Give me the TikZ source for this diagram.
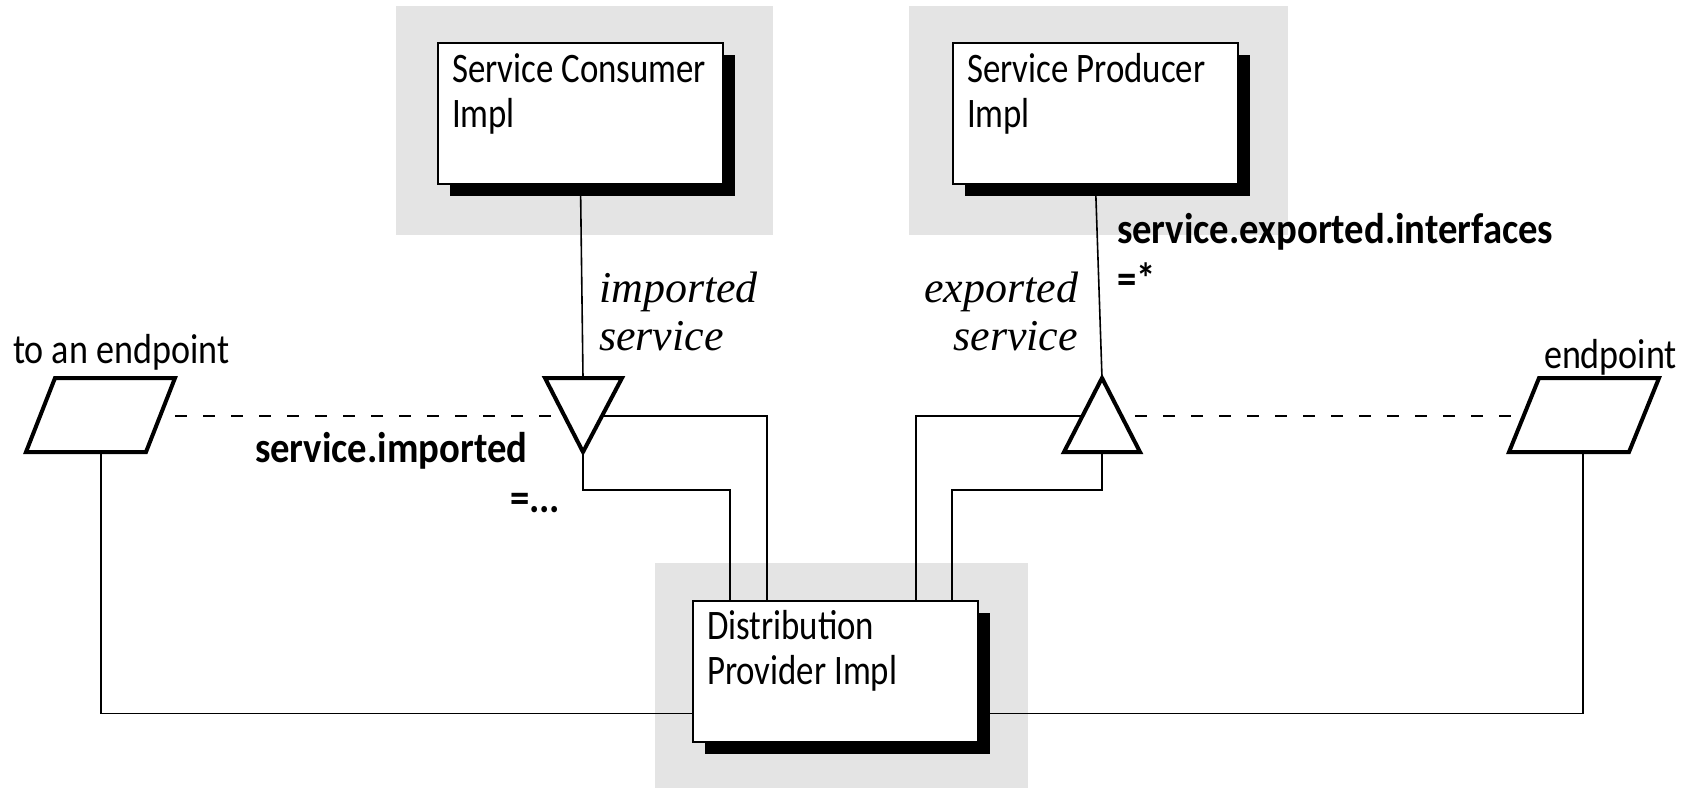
\documentclass[tikz,border=0pt]{standalone}
\usepackage{fontspec}
\newfontfamily\lightsans[FakeStretch=0.83]{Carlito}
\newfontfamily\plainsans[FakeStretch=0.86]{Carlito}
\newfontfamily\boldsans[FakeStretch=0.9]{Carlito}
\newfontfamily\itserif{Liberation Serif}
\usetikzlibrary{calc,shadows}
\definecolor{bggray}{RGB}{228,228,228}
\tikzset{
  panel/.style={fill=bggray,draw=none},
  umlbox/.style={draw=black,fill=white,line width=1pt,minimum width=142.5pt,minimum height=70.5pt,inner sep=0pt,
    drop shadow={shadow xshift=6pt,shadow yshift=-6pt,fill=black,opacity=1}},
  conn/.style={draw=black,line width=0.8pt},
  dashconn/.style={draw=black,line width=0.8pt,dash pattern=on 6pt off 8pt,dash phase=7pt},
  heavy/.style={draw=black,fill=white,line width=2pt,line join=miter},
  boxtext/.style={inner sep=0pt,outer sep=0pt,anchor=base west,font=\lightsans\fontsize{21}{22.5}\selectfont},
  sanslbl/.style={inner sep=0pt,outer sep=0pt,font=\plainsans\fontsize{21}{22.5}\selectfont},
  itlbl/.style={inner sep=0pt,outer sep=0pt,font=\itserif\itshape\fontsize{22}{24}\selectfont},
  boldlbl/.style={inner sep=0pt,outer sep=0pt,anchor=base west,font=\boldsans\bfseries\fontsize{21.5}{25}\selectfont},
}
\begin{document}
\begin{tikzpicture}[x=0.5pt,y=-0.5pt]
\useasboundingbox (0,0) rectangle (1690,788);
% grey panels
\fill[panel] (396,6) rectangle (773,235);
\fill[panel] (909,6) rectangle (1288,235);
\fill[panel] (655,563) rectangle (1028,788);

% boxes
\node[umlbox] (cons) at (580.5,113.5) {};
\node[umlbox] (prod) at (1095.5,113.5) {};
\node[umlbox] (dist) at (835.5,671) {};
\node[boxtext] (consT) at (452,82) {\begin{tabular}[t]{@{}l@{}}Service Consumer\\Impl\end{tabular}};
\node[boxtext] (prodT) at (967,82) {\begin{tabular}[t]{@{}l@{}}Service Producer\\Impl\end{tabular}};
\node[boxtext] (distT) at (707,639) {\begin{tabular}[t]{@{}l@{}}Distribution\\Provider Impl\end{tabular}};

% triangles
\coordinate (impTL) at (545,378);
\coordinate (impTR) at (622,378);
\coordinate (impApex) at (583,452);
\coordinate (impTop) at (583,378);
\coordinate (impLe) at (564,416);
\coordinate (impRe) at (603,416);
\coordinate (expApex) at (1102,378);
\coordinate (expBL) at (1064,452);
\coordinate (expBR) at (1140,452);
\coordinate (expBase) at (1102,452);
\coordinate (expLe) at (1083,416);
\coordinate (expRe) at (1121,416);

% endpoints (parallelograms)
\coordinate (lTL) at (55,378);
\coordinate (lTR) at (175,378);
\coordinate (lBR) at (146,452);
\coordinate (lBL) at (26,452);
\coordinate (lBot) at (101,452);
\coordinate (lRe) at (161,416);
\coordinate (rTL) at (1539,378);
\coordinate (rTR) at (1659,378);
\coordinate (rBR) at (1629,452);
\coordinate (rBL) at (1509,452);
\coordinate (rBot) at (1583,452);
\coordinate (rLe) at (1524,416);

% connectors
\draw[conn] (cons.south) -- (impTop);
\draw[conn] (prod.south) -- (expApex);
\draw[conn] (impApex) -- ++(0,38) -| ($(dist.north west)+(38,0)$);
\draw[conn] (impRe) -| ($(dist.north west)+(75,0)$);
\draw[conn] (expLe) -| ($(dist.north west)+(224,0)$);
\draw[conn] (expBase) -- ++(0,38) -| ($(dist.north west)+(260,0)$);
\draw[conn] (lBot) |- ($(dist.south west)+(0,-29)$);
\draw[conn] (rBot) |- ($(dist.south east)+(0,-29)$);
\draw[dashconn] (lRe) -- (impLe);
\draw[dashconn] (expRe) -- (rLe);

\draw[heavy] (impTL) -- (impTR) -- (impApex) -- cycle;
\draw[heavy] (expApex) -- (expBR) -- (expBL) -- cycle;
\draw[heavy] (lTL) -- (lTR) -- (lBR) -- (lBL) -- cycle;
\draw[heavy] (rTL) -- (rTR) -- (rBR) -- (rBL) -- cycle;

% labels
\node[sanslbl,anchor=base west] (toep) at (13,363) {to an endpoint};
\node[sanslbl,anchor=base west] (ep) at (1544,368) {endpoint};
\node[itlbl,anchor=base west] (impL) at (599,302) {\begin{tabular}[t]{@{}l@{}}imported\\service\end{tabular}};
\node[itlbl,anchor=base east] (expL) at (1078,302) {\begin{tabular}[t]{@{}r@{}}exported\\service\end{tabular}};
\node[boldlbl] (expProp) at (1117,243) {\begin{tabular}[t]{@{}l@{}}service.exported.interfaces\\=*\end{tabular}};
\node[boldlbl] (impProp) at (255,462) {\begin{tabular}[t]{@{}l@{}}service.imported\\\hspace{127.5pt}=...\end{tabular}};
\end{tikzpicture}
\end{document}
